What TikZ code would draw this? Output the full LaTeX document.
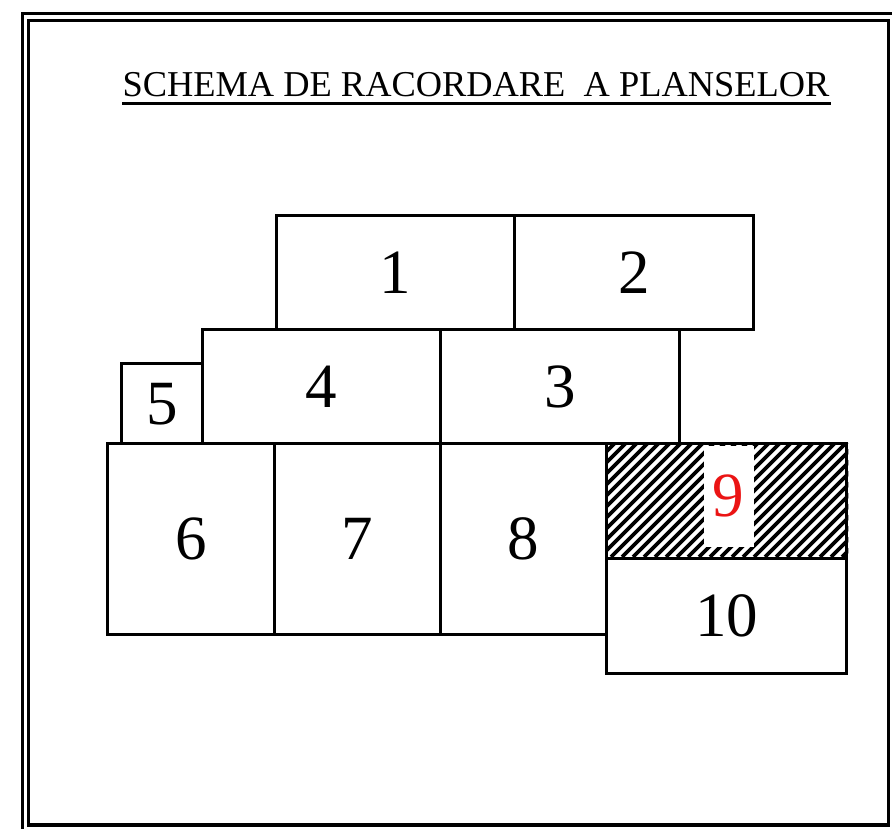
\documentclass[tikz,border=0pt]{standalone}
\usepackage{fontspec}
\setmainfont{Liberation Serif}
\definecolor{nrRosu}{RGB}{235,20,20}

\begin{document}
\begin{tikzpicture}[x=1pt, y=-1pt,
      plansa/.style={draw, line width=3.4pt, anchor=north west, inner sep=0pt, font=\fontsize{63}{63}\selectfont},
      hasura/.style={line width=3.6pt},
      cadru/.style={line width=3.4pt}
    ]
      \clip (0,0) rectangle (892,829);
      % cadrul dublu
      \draw[cadru] (22.5,13.5) rectangle (910,845);
      \draw[cadru] (28.5,20.5) rectangle (888.5,825);
      % titlul
      \node[font=\fontsize{36.4}{36.4}\selectfont, anchor=base] (titlu) at (476,97) {SCHEMA DE RACORDARE\ \ A PLANSELOR};
      \draw[line width=3pt] (122,104) -- (831,104);
      % planse
      \node[plansa, minimum width=238pt, minimum height=114pt] (p1) at (275,214) {1};
      \node[plansa, minimum width=239pt, minimum height=114pt] (p2) at (513,214) {2};
      \node[plansa, minimum width=238pt, minimum height=114pt] (p4) at (201,328) {4};
      \node[plansa, minimum width=239pt, minimum height=114pt] (p3) at (439,328) {3};
      \node[plansa, minimum width=81pt, minimum height=80pt] (p5) at (120,362) {\raisebox{-6pt}{5}};
      \node[plansa, minimum width=167pt, minimum height=191pt] (p6) at (106,442) {6};
      \node[plansa, minimum width=166pt, minimum height=191pt] (p7) at (273,442) {7};
      \node[plansa, minimum width=166pt, minimum height=191pt] (p8) at (439,442) {8};
      \node[plansa, minimum width=240pt, minimum height=115pt] (p9) at (605,442) {};
      \node[plansa, minimum width=240pt, minimum height=115pt] (p10) at (605,557) {10};
      % hasura plansei 9
      \begin{scope}
        \clip (p9.north west) rectangle (p9.south east);
        \foreach \x in {490,501,...,850}
          \draw[hasura] (\x,557) -- ++(115,-115);
      \end{scope}
      \node[fill=white, inner sep=0pt, minimum width=50pt, minimum height=101pt, text=nrRosu, font=\fontsize{63}{63}\selectfont] (n9) at (728.5,496) {9};
    \end{tikzpicture}
\end{document}
